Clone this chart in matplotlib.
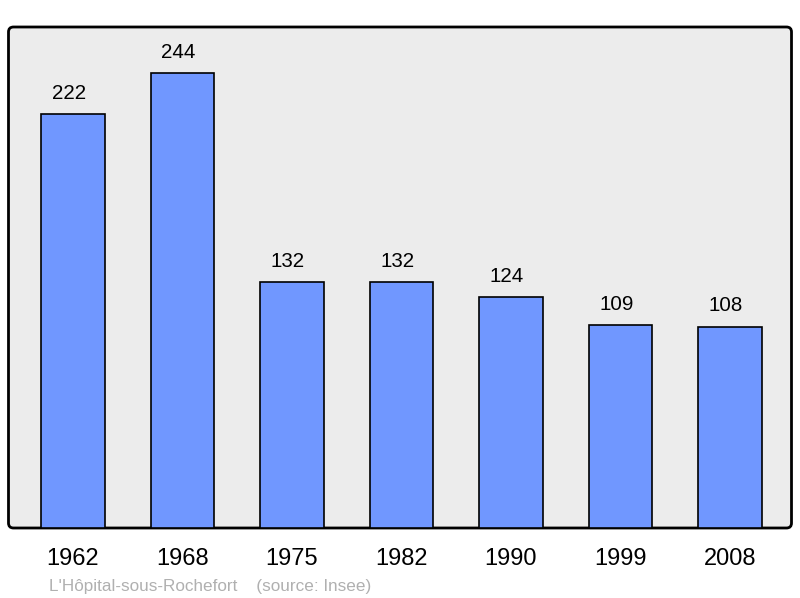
import matplotlib
matplotlib.use("Agg")
import matplotlib.pyplot as plt
from matplotlib.patches import FancyBboxPatch
from matplotlib.transforms import blended_transform_factory

years = ["1962", "1968", "1975", "1982", "1990", "1999", "2008"]
population = [222, 244, 132, 132, 124, 109, 108]
source_text = "L'Hôpital-sous-Rochefort    (source: Insee)"

plt.rcParams['font.family'] = ['Liberation Sans', 'DejaVu Sans']

W, H = 800, 598
fig = plt.figure(figsize=(W / 100, H / 100), dpi=100)

# panel in pixels
pl, pr, pt, pb = 8.5, 791.5, 27, 528
panel = FancyBboxPatch((pl / 100, (H - pb) / 100), (pr - pl) / 100, (pb - pt) / 100,
                       boxstyle="round,pad=0,rounding_size=0.05",
                       transform=fig.dpi_scale_trans, facecolor="#ececec",
                       edgecolor="black", linewidth=2, zorder=-1)
fig.patches.append(panel)

ax = fig.add_axes([pl / W, (H - pb) / H, (pr - pl) / W, (pb - pt) / H])
ax.set_facecolor("none")
ax.set_zorder(1)
for s in ax.spines.values():
    s.set_visible(False)

x = list(range(len(years)))
ax.bar(x, population, width=0.579, color="#7097ff", edgecolor="black", linewidth=1.2, zorder=2)
ax.set_xlim(-0.589, 6.562)
ax.set_ylim(0, 268.8)
ax.set_xticks([])
ax.set_yticks([])

for xi, v in zip(x, population):
    ax.annotate(str(v), (xi, v), xytext=(-3, 11), textcoords="offset points",
                ha="center", va="baseline", fontsize=14.8, color="black")

trans = blended_transform_factory(ax.transData, fig.transFigure)
for xi, lab in zip(x, years):
    ax.text(xi, 1 - 559 / H, lab, transform=trans, ha="center", va="center",
            fontsize=17, color="black")

fig.text(49 / W, 1 - 586 / H, source_text, ha="left", va="center",
         fontsize=12.3, color="#b0b0b0")

fig.savefig("out.png", dpi=100)
